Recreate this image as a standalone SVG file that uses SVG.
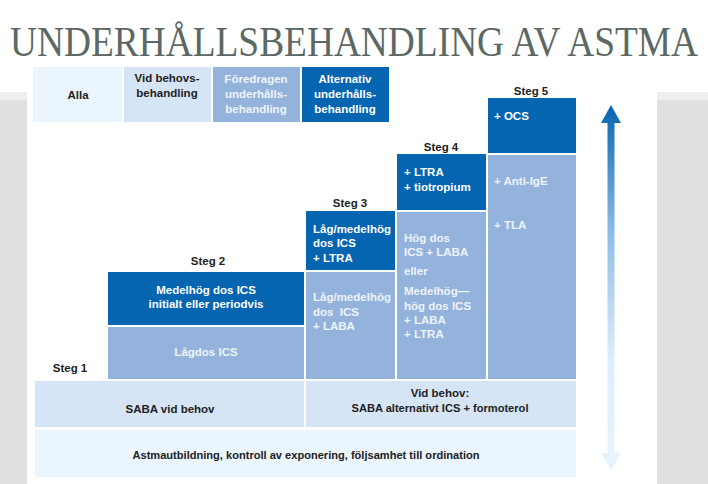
<svg xmlns="http://www.w3.org/2000/svg" width="708" height="484" viewBox="0 0 708 484">
<defs>
<linearGradient id="arrowGrad" x1="0" y1="0" x2="0" y2="1">
<stop offset="0" stop-color="#0565B0"/>
<stop offset="0.35" stop-color="#8DBDE6"/>
<stop offset="0.7" stop-color="#DDEEFB"/>
<stop offset="1" stop-color="#E8F4FD"/>
</linearGradient>
<style>
.t{font-family:"Liberation Sans",Arial,sans-serif;font-weight:bold;font-size:11.5px}
.dk{fill:#222}
.wh{fill:#fff}
.fo{fill:#EEF3FA}
.c1{fill:#EAF5FE}
.c2{fill:#D6E5F5}
.c3{fill:#93B3DD}
.c4{fill:#0565B0}
.mid{text-anchor:middle}
</style>
</defs>
<rect width="708" height="484" fill="#fff"/>
<rect x="0" y="92" width="27" height="392" fill="#EEEEEE"/>
<rect x="0" y="100" width="27" height="384" fill="#E0E0E0"/>
<rect x="657" y="92" width="51" height="392" fill="#EEEEEE"/>
<rect x="657" y="100" width="51" height="384" fill="#E0E0E0"/>
<text transform="scale(1,1.2)" x="354" y="46.7" text-anchor="middle" textLength="688" lengthAdjust="spacingAndGlyphs" font-family="'Liberation Serif','Times New Roman',serif" font-size="35" fill="#5C6864">UNDERHÅLLSBEHANDLING AV ASTMA</text>

<g id="legend">
<rect class="c1" x="33" y="67" width="89" height="55"/>
<rect class="c2" x="124" y="67" width="87" height="55"/>
<rect class="c3" x="213" y="67" width="87" height="55"/>
<rect class="c4" x="302" y="67" width="87" height="55"/>
<text class="t dk mid" x="78" y="99">Alla</text>
<text class="t dk mid" x="167" y="82">Vid behovs-</text>
<text class="t dk mid" x="167" y="97">behandling</text>
<text class="t fo mid" x="256" y="83">Föredragen</text>
<text class="t fo mid" x="256" y="98">underhålls-</text>
<text class="t fo mid" x="256" y="113">behandling</text>
<text class="t wh mid" x="345" y="83">Alternativ</text>
<text class="t wh mid" x="345" y="98">underhålls-</text>
<text class="t wh mid" x="345" y="113">behandling</text>
</g>

<g id="steg1">
<text class="t dk mid" x="70" y="372">Steg 1</text>
</g>

<g id="steg2">
<text class="t dk mid" x="208" y="265">Steg 2</text>
<rect class="c4" x="108" y="272" width="196" height="53"/>
<rect class="c3" x="108" y="327" width="196" height="52"/>
<text class="t wh mid" x="206" y="294">Medelhög dos ICS</text>
<text class="t wh mid" x="206" y="308">initialt eller periodvis</text>
<text class="t fo mid" x="206" y="356">Lågdos ICS</text>
</g>

<g id="steg3">
<text class="t dk mid" x="350" y="207">Steg 3</text>
<rect class="c4" x="306" y="211" width="89" height="59"/>
<rect class="c3" x="306" y="272" width="89" height="107"/>
<text class="t wh" x="313" y="233">Låg/medelhög</text>
<text class="t wh" x="313" y="247">dos ICS</text>
<text class="t wh" x="313" y="262">+ LTRA</text>
<text class="t fo" x="313" y="301">Låg/medelhög</text>
<text class="t fo" x="313" y="316" xml:space="preserve">dos  ICS</text>
<text class="t fo" x="313" y="330">+ LABA</text>
</g>

<g id="steg4">
<text class="t dk mid" x="441" y="151">Steg 4</text>
<rect class="c4" x="397" y="154" width="89" height="56"/>
<rect class="c3" x="397" y="212" width="89" height="167"/>
<text class="t wh" x="404" y="176">+ LTRA</text>
<text class="t wh" x="404" y="191">+ tiotropium</text>
<text class="t fo" x="404" y="242">Hög dos</text>
<text class="t fo" x="404" y="256">ICS + LABA</text>
<text class="t fo" x="404" y="275">eller</text>
<text class="t fo" x="404" y="295">Medelhög—</text>
<text class="t fo" x="404" y="310">hög dos ICS</text>
<text class="t fo" x="404" y="324">+ LABA</text>
<text class="t fo" x="404" y="338">+ LTRA</text>
</g>

<g id="steg5">
<text class="t dk mid" x="531" y="95">Steg 5</text>
<rect class="c4" x="488" y="98" width="88" height="55"/>
<rect class="c3" x="488" y="155" width="88" height="224"/>
<text class="t wh" x="494" y="120">+ OCS</text>
<text class="t fo" x="494" y="185">+ Anti-IgE</text>
<text class="t fo" x="494" y="229">+ TLA</text>
</g>

<g id="vidbehov">
<rect class="c2" x="35" y="381" width="269" height="46"/>
<rect class="c2" x="306" y="381" width="270" height="46"/>
<text class="t dk mid" x="170" y="413">SABA vid behov</text>
<text class="t dk mid" x="440" y="397">Vid behov:</text>
<text class="t dk mid" x="440" y="412" textLength="177" lengthAdjust="spacingAndGlyphs">SABA alternativt ICS + formoterol</text>
</g>

<g id="bas">
<rect class="c1" x="35" y="430" width="541" height="47"/>
<text class="t dk mid" x="306" y="459" textLength="347" lengthAdjust="spacingAndGlyphs">Astmautbildning, kontroll av exponering, följsamhet till ordination</text>
</g>

<g id="connectors">
<path d="M611,105 L621,123 L614.5,123 L614.5,453 L621,453 L611,470 L601,453 L607.5,453 L607.5,123 L601,123 Z" fill="url(#arrowGrad)"/>
</g>
</svg>
